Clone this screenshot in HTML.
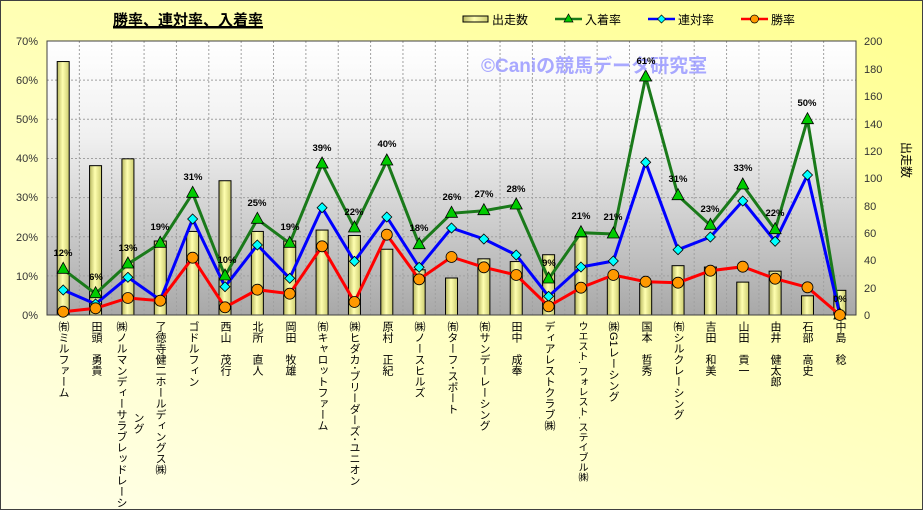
<!DOCTYPE html>
<html><head><meta charset="utf-8">
<style>
html,body{margin:0;padding:0}
body{width:923px;height:510px;overflow:hidden;position:relative;font-family:"Liberation Sans","Noto Sans CJK JP",sans-serif}
#frame{position:absolute;left:0;top:0;width:921px;height:508px;border:1px solid #404040;background:linear-gradient(200deg,#ffff90 0%,#ffffb8 45%,#ffffe8 100%)}
.cl{position:absolute;top:321px;writing-mode:vertical-rl;font-size:11px;line-height:12px;white-space:nowrap;color:#000;transform:translateX(-50%)}
</style></head><body>
<div id="frame"></div>
<svg width="923" height="510" style="position:absolute;left:0;top:0" xmlns="http://www.w3.org/2000/svg" font-family="Liberation Sans, Noto Sans CJK JP, sans-serif">
<defs>
<linearGradient id="pg" x1="0" y1="0" x2="0" y2="1"><stop offset="0" stop-color="#ffffff"/><stop offset="0.35" stop-color="#f0f0f0"/><stop offset="1" stop-color="#a8a8a8"/></linearGradient>
<linearGradient id="bg" x1="0" y1="0" x2="1" y2="0"><stop offset="0" stop-color="#b8b860"/><stop offset="0.45" stop-color="#ffffb0"/><stop offset="1" stop-color="#cccc70"/></linearGradient>
</defs>
<rect x="47" y="41" width="809" height="274" fill="url(#pg)"/>
<g id="grid" stroke="#a0a0a0" stroke-width="1" stroke-dasharray="2,2"></g>
<g id="bars"></g>
<rect x="47" y="41" width="809" height="274" fill="none" stroke="#404040"/>
<g id="lines"></g>
<g font-size="11" fill="#333" text-anchor="end">
<text x="38" y="45">70%</text><text x="38" y="84">60%</text><text x="38" y="123">50%</text><text x="38" y="162">40%</text><text x="38" y="201">30%</text><text x="38" y="241">20%</text><text x="38" y="280">10%</text><text x="38" y="319">0%</text>
</g>
<g font-size="11" fill="#333" text-anchor="start">
<text x="864" y="45">200</text><text x="864" y="73">180</text><text x="864" y="100">160</text><text x="864" y="128">140</text><text x="864" y="155">120</text><text x="864" y="182">100</text><text x="864" y="210">80</text><text x="864" y="237">60</text><text x="864" y="264">40</text><text x="864" y="292">20</text><text x="864" y="319">0</text>
</g>
<text x="0" y="0" font-size="12" transform="translate(902,160) rotate(90)" text-anchor="middle" fill="#000">出走数</text>
<text x="113" y="25" font-size="15" font-weight="bold" fill="#000" text-decoration="underline">勝率、連対率、入着率</text>
<line x1="113" y1="28" x2="263" y2="28" stroke="#000" stroke-width="1"/>
<rect x="463" y="16" width="25" height="6" fill="url(#bg)" stroke="#000"/>
<text x="492" y="24" font-size="12">出走数</text>
<line x1="555" y1="19" x2="582" y2="19" stroke="#1a7a1a" stroke-width="2.5"/><polygon points="568.5,14 573,22 564,22" fill="#00cc00" stroke="#000" stroke-width="0.7"/>
<text x="585" y="24" font-size="12">入着率</text>
<line x1="648" y1="19" x2="675" y2="19" stroke="#0000ff" stroke-width="2.5"/><polygon points="661.5,15 665.5,19 661.5,23 657.5,19" fill="#00ffff" stroke="#000" stroke-width="0.7"/>
<text x="678" y="24" font-size="12">連対率</text>
<line x1="741" y1="19" x2="768" y2="19" stroke="#ff0000" stroke-width="2.5"/><circle cx="754.5" cy="19" r="4" fill="#ff9900" stroke="#000" stroke-width="0.7"/>
<text x="771" y="24" font-size="12">勝率</text>
<text x="481" y="72" font-size="19" font-weight="bold" fill="#9999ff" fill-opacity="0.85">©Caniの競馬データ研究室</text>
<g font-size="9.5" font-weight="bold" text-anchor="middle" fill="#000">
<text x="63" y="256">12%</text><text x="96" y="280">6%</text><text x="128" y="251">13%</text><text x="160" y="230">19%</text><text x="193" y="180">31%</text><text x="227" y="263">10%</text><text x="257" y="206">25%</text><text x="290" y="230">19%</text><text x="322" y="151">39%</text><text x="354" y="215">22%</text><text x="387" y="147">40%</text><text x="419" y="231">18%</text><text x="452" y="200">26%</text><text x="484" y="197">27%</text><text x="516" y="192">28%</text><text x="549" y="266">9%</text><text x="581" y="219">21%</text><text x="613" y="220">21%</text><text x="646" y="64">61%</text><text x="678" y="182">31%</text><text x="710" y="212">23%</text><text x="743" y="171">33%</text><text x="775" y="216">22%</text><text x="807" y="106">50%</text><text x="840" y="302">0%</text>
</g>
</svg>
<div class="cl" style="left:63px">㈲ミルファーム</div>
<div class="cl" style="left:96px">田頭　勇貴</div>
<div class="cl" style="left:121px">㈱ノルマンディーサラブレッドレーシ</div>
<div class="cl" style="left:138px;top:412px">ング</div>
<div class="cl" style="left:160px">了徳寺健二ホールディングス㈱</div>
<div class="cl" style="left:193px">ゴドルフィン</div>
<div class="cl" style="left:225px">西山　茂行</div>
<div class="cl" style="left:257px">北所　直人</div>
<div class="cl" style="left:290px">岡田　牧雄</div>
<div class="cl" style="left:322px">㈲キャロットファーム</div>
<div class="cl" style="left:354px">㈱ヒダカ･ブリーダーズ･ユニオン</div>
<div class="cl" style="left:387px">原村　正紀</div>
<div class="cl" style="left:419px">㈱ノースヒルズ</div>
<div class="cl" style="left:452px">㈲ターフ･スポート</div>
<div class="cl" style="left:484px">㈲サンデーレーシング</div>
<div class="cl" style="left:516px">田中　成奉</div>
<div class="cl" style="left:549px">ディアレストクラブ㈱</div>
<div class="cl" style="left:581px;font-size:10px">ウエスト. フォレスト. ステイブル㈱</div>
<div class="cl" style="left:613px">㈱G1レーシング</div>
<div class="cl" style="left:646px">国本　哲秀</div>
<div class="cl" style="left:678px">㈲シルクレーシング</div>
<div class="cl" style="left:710px">吉田　和美</div>
<div class="cl" style="left:743px">山田　貢一</div>
<div class="cl" style="left:775px">由井　健太郎</div>
<div class="cl" style="left:807px">石部　高史</div>
<div class="cl" style="left:840px">中島　稔</div>
<script>
var NS="http://www.w3.org/2000/svg";
function el(t,a,p){var e=document.createElementNS(NS,t);for(var k in a)e.setAttribute(k,a[k]);document.getElementById(p).appendChild(e);return e;}
var cx=[];for(var i=0;i<25;i++)cx.push(63.2+32.36*i);
for(var i=1;i<7;i++){var y=315-i*39.14;el('line',{x1:47,y1:y,x2:856,y2:y},'grid');}
for(var i=1;i<25;i++){var x=47+32.36*i;el('line',{x1:x,y1:41,x2:x,y2:315},'grid');}
var cnt=[185,109,114,54,61,98,61,54,62,58,48,33,27,41,39,44,57,28,23,36,35,24,32,14,18];
for(var i=0;i<25;i++){var h=cnt[i]/200*274;el('rect',{x:cx[i]-6,y:315-h,width:12,height:h,fill:'url(#bg)',stroke:'#000','stroke-width':1},'bars');}
var G=[269.3,293.7,264,243.3,193.3,276,219.3,243.3,164,228,161,244.7,213.3,210.7,205,279,232.7,234,77,195.7,225.3,185,229.7,119.7,315];
var B=[290,304,277.3,300,219,286.7,245,278.3,207.7,261.3,217,267.3,228,239,255,296.3,267,261,162.3,249.7,237,201,241.3,175,315];
var R=[311.7,308.3,298,300.7,257.7,307.3,289.7,293.7,246.3,302,234.7,279.3,257,267.3,275,306.3,287.7,275,281.7,282.7,270.7,266.7,278.7,287.3,315];
function pts(a){return a.map(function(y,i){return cx[i]+','+y}).join(' ');}
el('polyline',{points:pts(G),fill:'none',stroke:'#1a7a1a','stroke-width':3},'lines');
el('polyline',{points:pts(B),fill:'none',stroke:'#0000ff','stroke-width':3},'lines');
el('polyline',{points:pts(R),fill:'none',stroke:'#ff0000','stroke-width':3},'lines');
for(var i=0;i<25;i++){var x=cx[i],y=G[i];el('polygon',{points:x+','+(y-7)+' '+(x+6)+','+(y+4)+' '+(x-6)+','+(y+4),fill:'#00cc00',stroke:'#000','stroke-width':0.8},'lines');}
for(var i=0;i<25;i++){var x=cx[i],y=B[i];el('polygon',{points:x+','+(y-5)+' '+(x+5)+','+y+' '+x+','+(y+5)+' '+(x-5)+','+y,fill:'#00ffff',stroke:'#000','stroke-width':0.8},'lines');}
for(var i=0;i<25;i++){el('circle',{cx:cx[i],cy:R[i],r:5.5,fill:'#ff9900',stroke:'#000','stroke-width':0.8},'lines');}
</script>
</body></html>
